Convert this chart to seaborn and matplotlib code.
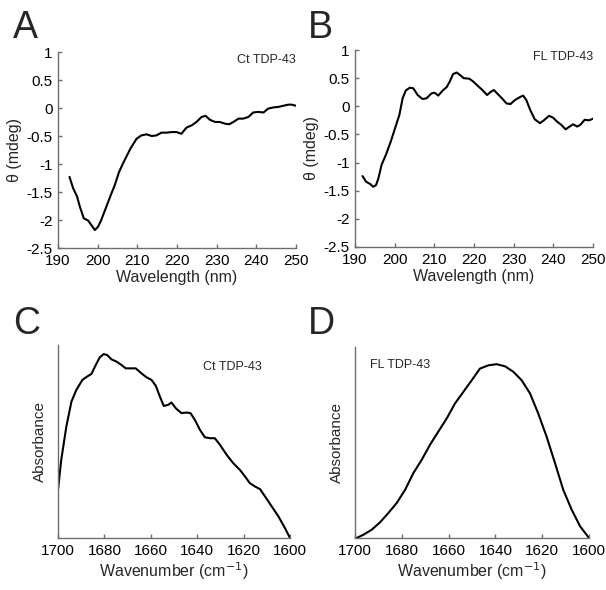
import numpy as np
import pandas as pd
import matplotlib
matplotlib.use("Agg")
import matplotlib.pyplot as plt
import seaborn as sns

# ---- CD spectra (panel A / B) ----
ct_cd_wavelength = [192.9, 193.8, 194.8, 195.5, 196.5, 197.6, 198.4, 199.3, 200.1, 200.9,
                    202.2, 203.5, 204.3, 205.4, 206.8, 208.3, 209.8, 211.0, 212.3, 213.6,
                    214.8, 216.1, 217.4, 218.6, 219.9, 221.1, 222.4, 223.7, 224.9, 226.2,
                    227.2, 228.3, 229.6, 230.8, 232.1, 233.2, 234.2, 235.5, 236.7, 238.0,
                    239.2, 240.5, 241.8, 243.0, 244.3, 245.6, 246.8, 248.1, 248.9, 250.0]
ct_cd_theta = [-1.23, -1.43, -1.58, -1.76, -1.97, -2.01, -2.09, -2.18, -2.12, -2.00,
               -1.76, -1.52, -1.38, -1.14, -0.93, -0.72, -0.55, -0.49, -0.47, -0.50,
               -0.49, -0.44, -0.44, -0.43, -0.43, -0.46, -0.35, -0.31, -0.25, -0.16,
               -0.14, -0.21, -0.25, -0.25, -0.28, -0.29, -0.25, -0.19, -0.19, -0.16,
               -0.08, -0.07, -0.08, -0.01, 0.01, 0.02, 0.04, 0.06, 0.06, 0.04]

fl_cd_wavelength = [191.9, 192.8, 193.8, 194.6, 195.3, 195.9, 196.7, 197.8, 199.0, 200.1,
                    201.2, 202.0, 202.8, 203.8, 204.7, 205.8, 207.0, 208.0, 209.3, 210.1,
                    211.0, 212.1, 213.1, 213.9, 214.7, 215.6, 216.4, 217.4, 218.8, 219.8,
                    221.0, 222.1, 223.3, 224.1, 225.0, 226.1, 227.2, 228.2, 229.2, 230.3,
                    231.5, 232.4, 233.2, 234.2, 235.3, 236.6, 237.6, 238.9, 239.9, 240.9,
                    242.0, 243.1, 244.1, 245.0, 246.0, 246.8, 247.9, 249.0, 250.0]
fl_cd_theta = [-1.24, -1.34, -1.38, -1.43, -1.40, -1.28, -1.04, -0.86, -0.63, -0.39,
               -0.15, 0.14, 0.28, 0.33, 0.32, 0.20, 0.13, 0.14, 0.23, 0.24,
               0.19, 0.28, 0.34, 0.44, 0.57, 0.60, 0.56, 0.50, 0.49, 0.44,
               0.36, 0.29, 0.20, 0.25, 0.29, 0.21, 0.13, 0.05, 0.04, 0.11,
               0.16, 0.19, 0.11, -0.07, -0.23, -0.30, -0.25, -0.17, -0.20, -0.27,
               -0.33, -0.41, -0.36, -0.32, -0.36, -0.33, -0.24, -0.25, -0.22]

# ---- FTIR spectra (panel C / D), arbitrary absorbance units ----
ct_ir_wavenumber = [1700.0, 1698.6, 1696.4, 1694.2, 1692.1, 1689.5, 1687.5, 1685.6, 1683.7, 1682.0,
                    1680.3, 1678.8, 1677.0, 1674.8, 1672.7, 1670.8, 1668.3, 1666.5, 1664.0, 1661.9,
                    1659.7, 1657.8, 1656.1, 1654.4, 1652.5, 1651.1, 1649.2, 1646.8, 1644.6, 1642.9,
                    1641.0, 1638.8, 1636.7, 1634.5, 1632.4, 1630.2, 1627.3, 1624.5, 1621.6, 1619.4,
                    1617.3, 1615.1, 1612.9, 1610.8, 1607.9, 1605.0, 1602.2, 1600.0]
ct_ir_absorbance = [0.250, 0.405, 0.578, 0.707, 0.767, 0.819, 0.836, 0.850, 0.897, 0.936,
                    0.953, 0.948, 0.926, 0.914, 0.897, 0.879, 0.879, 0.879, 0.853, 0.833,
                    0.819, 0.788, 0.733, 0.684, 0.690, 0.702, 0.672, 0.647, 0.650, 0.647,
                    0.612, 0.560, 0.522, 0.517, 0.517, 0.483, 0.431, 0.388, 0.353, 0.319,
                    0.284, 0.267, 0.253, 0.216, 0.164, 0.112, 0.052, 0.0]

fl_ir_wavenumber = [1699.3, 1696.4, 1692.9, 1689.3, 1685.8, 1682.2, 1678.6, 1675.1, 1671.5, 1668.0,
                    1664.4, 1660.8, 1657.3, 1653.7, 1650.1, 1646.6, 1643.0, 1639.5, 1635.9, 1632.3,
                    1628.8, 1625.2, 1621.7, 1618.1, 1614.5, 1611.0, 1607.4, 1603.8, 1600.0]
fl_ir_absorbance = [0.0, 0.017, 0.043, 0.082, 0.130, 0.183, 0.252, 0.339, 0.409, 0.487,
                    0.557, 0.626, 0.704, 0.765, 0.826, 0.887, 0.904, 0.910, 0.899, 0.870,
                    0.826, 0.757, 0.652, 0.530, 0.391, 0.252, 0.148, 0.061, 0.0]

cd_xticks = [190, 200, 210, 220, 230, 240, 250]
cd_yticks = [1, 0.5, 0, -0.5, -1, -1.5, -2, -2.5]
cd_ytick_labels = ['1', '0.5', '0', '-0.5', '-1', '-1.5', '-2', '-2.5']
ir_xticks = [1700, 1680, 1660, 1640, 1620, 1600]

sns.set_theme(style="ticks")
plt.rcParams['font.family'] = ['Liberation Sans', 'DejaVu Sans']

W, H = 606, 590
fig = plt.figure(figsize=(W / 100, H / 100), dpi=100)


def px_axes(x0, y0, x1, y1):
    # axes box given in pixel coords (top-left origin)
    return fig.add_axes([x0 / W, 1 - y1 / H, (x1 - x0) / W, (y1 - y0) / H])


ax_a = px_axes(58, 52, 296, 248)
ax_b = px_axes(355, 50, 593, 247)
ax_c = px_axes(58, 345, 290, 538)
ax_d = px_axes(355, 347, 589, 538)

axis_col = '#6e6e6e'
line_kw = dict(color='black', linewidth=1.5, estimator=None, sort=False)

df_a = pd.DataFrame({'x': ct_cd_wavelength, 'y': ct_cd_theta})
df_b = pd.DataFrame({'x': fl_cd_wavelength, 'y': fl_cd_theta})
df_c = pd.DataFrame({'x': ct_ir_wavenumber, 'y': ct_ir_absorbance})
df_d = pd.DataFrame({'x': fl_ir_wavenumber, 'y': fl_ir_absorbance})

for ax, df in [(ax_a, df_a), (ax_b, df_b)]:
    sns.lineplot(data=df, x='x', y='y', ax=ax, **line_kw)
    ax.set_xlim(190, 250)
    ax.set_ylim(-2.5, 1)
    ax.set_xticks(cd_xticks)
    ax.set_yticks(cd_yticks)
    ax.set_yticklabels(cd_ytick_labels)
    ax.set_xlabel('Wavelength (nm)', fontsize=11.5, labelpad=2)
    ax.set_ylabel('θ (mdeg)', fontsize=11.5, labelpad=3)

for ax, df in [(ax_c, df_c), (ax_d, df_d)]:
    sns.lineplot(data=df, x='x', y='y', ax=ax, **line_kw)
    ax.set_xlim(1700, 1600)
    ax.set_ylim(0, 1)
    ax.set_xticks(ir_xticks)
    ax.set_yticks([])
    ax.set_xlabel('Wavenumber (cm$^{-1}$)', fontsize=11.5, labelpad=2)
    ax.set_ylabel('Absorbance', fontsize=11, labelpad=8)

for ax in [ax_a, ax_b, ax_c, ax_d]:
    sns.despine(ax=ax)
    for s in ['left', 'bottom']:
        ax.spines[s].set_color(axis_col)
        ax.spines[s].set_linewidth(1.0)
    ax.tick_params(direction='in', length=3, width=1, color=axis_col,
                   labelsize=11, pad=4, labelcolor='black')

# panel letters
for lbl, x, y in [('A', 13, 38), ('B', 308, 38), ('C', 13, 334), ('D', 308, 334)]:
    fig.text(x / W, 1 - y / H, lbl, fontsize=27, ha='left', va='baseline')

# sample annotations
fig.text(296 / W, 1 - 63 / H, 'Ct TDP-43', fontsize=9, ha='right', va='baseline')
fig.text(593 / W, 1 - 60 / H, 'FL TDP-43', fontsize=9, ha='right', va='baseline')
fig.text(203 / W, 1 - 370 / H, 'Ct TDP-43', fontsize=9, ha='left', va='baseline')
fig.text(370 / W, 1 - 368 / H, 'FL TDP-43', fontsize=9, ha='left', va='baseline')

fig.savefig('out.png', dpi=100, facecolor='white')
